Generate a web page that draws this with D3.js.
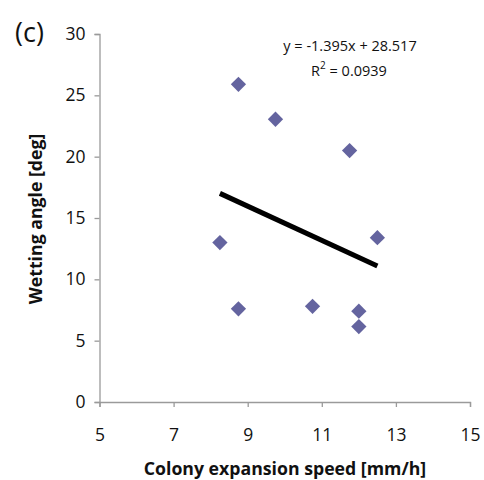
<!DOCTYPE html>
<html><head><meta charset="utf-8">
<script src="https://cdn.jsdelivr.net/npm/d3@7"></script>
<style>body{margin:0;background:#fff}svg{display:block}text{font-family:"Open Sans",Lato,sans-serif;fill:#111}</style>
</head><body>
<svg id="c" width="484" height="480"></svg>
<script>
const speed = [8.25, 8.75, 8.75, 9.75, 10.75, 11.75, 12.0, 12.0, 12.5];
const angle = [13.0, 25.9, 7.6, 23.05, 7.8, 20.5, 7.4, 6.15, 13.4];
const xTicks = [5, 7, 9, 11, 13, 15];
const yTicks = [0, 5, 10, 15, 20, 25, 30];
const slope = -1.395, intercept = 28.517;
const eqText = "y = -1.395x + 28.517";
const r2Text = "0.0939";

const svg = d3.select("#c");
const x = d3.scaleLinear().domain([5, 15]).range([99.5, 470]);
const y = d3.scaleLinear().domain([0, 30]).range([402, 34]);
const axisColor = "#9a9a9a";

const gx = svg.append("g").attr("transform", `translate(0,${y(0)})`)
  .call(d3.axisBottom(x).tickValues(xTicks).tickSize(5).tickPadding(28).tickFormat(d3.format("d")));
const gy = svg.append("g").attr("transform", `translate(${x(5)},0)`)
  .call(d3.axisLeft(y).tickValues(yTicks).tickSize(5).tickPadding(9).tickFormat(d3.format("d")));
[gx, gy].forEach(g => {
  g.select(".domain").attr("stroke", axisColor).attr("stroke-width", 1.3);
  g.selectAll(".tick line").attr("stroke", axisColor).attr("stroke-width", 1.3);
  g.selectAll(".tick text").style("font-size", "17.5px").attr("fill", "#111");
});
gx.selectAll(".tick text").attr("dy", "0.35em");

// regression line
const xmin = d3.min(speed), xmax = d3.max(speed);
svg.append("line")
  .attr("x1", x(xmin)).attr("y1", y(slope * xmin + intercept))
  .attr("x2", x(xmax)).attr("y2", y(slope * xmax + intercept))
  .attr("stroke", "#000").attr("stroke-width", 5);

// points
const pts = d3.range(speed.length).map(i => ({x: speed[i], y: angle[i]}));
svg.append("g").selectAll("path").data(pts).join("path")
  .attr("transform", d => `translate(${x(d.x)},${y(d.y)}) rotate(45)`)
  .attr("d", "M-5.4,-5.4H5.4V5.4H-5.4Z")
  .attr("fill", "#64649f");

// equation
svg.append("text").attr("x", 350).attr("y", 51).attr("text-anchor", "middle")
  .style("font-size", "14.5px").text(eqText);
const r2 = svg.append("text").attr("x", 349).attr("y", 76).attr("text-anchor", "middle")
  .style("font-size", "14.5px");
r2.append("tspan").text("R");
r2.append("tspan").attr("dy", -7).style("font-size", "10px").text("2");
r2.append("tspan").attr("dy", 7).text(" = " + r2Text);

// titles
svg.append("text").attr("x", 285).attr("y", 475).attr("text-anchor", "middle")
  .style("font-size", "17.7px").style("font-weight", "bold").text("Colony expansion speed [mm/h]");
svg.append("text").attr("transform", "translate(42,219) rotate(-90)").attr("text-anchor", "middle")
  .style("font-size", "17.7px").style("font-weight", "bold").text("Wetting angle [deg]");
svg.append("text").attr("x", 15).attr("y", 42).style("font-size", "27px").text("(c)");
</script>
</body></html>
